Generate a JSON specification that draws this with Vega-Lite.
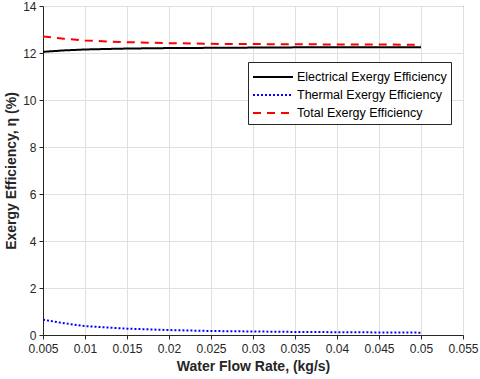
{
  "$schema": "https://vega.github.io/schema/vega-lite/v6.json",
  "width": 420,
  "height": 329,
  "autosize": {"type": "none"},
  "padding": {"left": 43, "top": 6, "right": 17, "bottom": 44},
  "background": "white",
  "config": {
    "font": "Liberation Sans",
    "view": {"stroke": "#262626", "strokeWidth": 1}
  },
  "data": {
    "values": [
      {"flow": 0.005, "series": "Electrical Exergy Efficiency", "eff": 12.05},
      {"flow": 0.0075, "series": "Electrical Exergy Efficiency", "eff": 12.11},
      {"flow": 0.01, "series": "Electrical Exergy Efficiency", "eff": 12.15},
      {"flow": 0.015, "series": "Electrical Exergy Efficiency", "eff": 12.19},
      {"flow": 0.02, "series": "Electrical Exergy Efficiency", "eff": 12.21},
      {"flow": 0.025, "series": "Electrical Exergy Efficiency", "eff": 12.22},
      {"flow": 0.03, "series": "Electrical Exergy Efficiency", "eff": 12.23},
      {"flow": 0.035, "series": "Electrical Exergy Efficiency", "eff": 12.24},
      {"flow": 0.04, "series": "Electrical Exergy Efficiency", "eff": 12.245},
      {"flow": 0.045, "series": "Electrical Exergy Efficiency", "eff": 12.25},
      {"flow": 0.05, "series": "Electrical Exergy Efficiency", "eff": 12.25},
      {"flow": 0.005, "series": "Thermal Exergy Efficiency", "eff": 0.65},
      {"flow": 0.0075, "series": "Thermal Exergy Efficiency", "eff": 0.5},
      {"flow": 0.01, "series": "Thermal Exergy Efficiency", "eff": 0.38},
      {"flow": 0.015, "series": "Thermal Exergy Efficiency", "eff": 0.27},
      {"flow": 0.02, "series": "Thermal Exergy Efficiency", "eff": 0.21},
      {"flow": 0.025, "series": "Thermal Exergy Efficiency", "eff": 0.17},
      {"flow": 0.03, "series": "Thermal Exergy Efficiency", "eff": 0.15},
      {"flow": 0.035, "series": "Thermal Exergy Efficiency", "eff": 0.13},
      {"flow": 0.04, "series": "Thermal Exergy Efficiency", "eff": 0.12},
      {"flow": 0.045, "series": "Thermal Exergy Efficiency", "eff": 0.11},
      {"flow": 0.05, "series": "Thermal Exergy Efficiency", "eff": 0.1},
      {"flow": 0.005, "series": "Total Exergy Efficiency", "eff": 12.7},
      {"flow": 0.0075, "series": "Total Exergy Efficiency", "eff": 12.61},
      {"flow": 0.01, "series": "Total Exergy Efficiency", "eff": 12.53},
      {"flow": 0.015, "series": "Total Exergy Efficiency", "eff": 12.46},
      {"flow": 0.02, "series": "Total Exergy Efficiency", "eff": 12.42},
      {"flow": 0.025, "series": "Total Exergy Efficiency", "eff": 12.39},
      {"flow": 0.03, "series": "Total Exergy Efficiency", "eff": 12.38},
      {"flow": 0.035, "series": "Total Exergy Efficiency", "eff": 12.37},
      {"flow": 0.04, "series": "Total Exergy Efficiency", "eff": 12.365},
      {"flow": 0.045, "series": "Total Exergy Efficiency", "eff": 12.36},
      {"flow": 0.05, "series": "Total Exergy Efficiency", "eff": 12.35}
    ]
  },
  "mark": {"type": "line", "strokeWidth": 2, "clip": true},
  "encoding": {
    "x": {
      "field": "flow",
      "type": "quantitative",
      "scale": {"domain": [0.005, 0.055], "nice": false, "zero": false},
      "axis": {
        "title": "Water Flow Rate, (kg/s)",
        "titleFontSize": 14,
        "titleFontWeight": "bold",
        "titleColor": "#262626",
        "titlePadding": 5,
        "values": [0.005, 0.01, 0.015, 0.02, 0.025, 0.03, 0.035, 0.04, 0.045, 0.05, 0.055],
        "format": ".3~f",
        "labelFontSize": 12,
        "labelColor": "#262626",
        "labelPadding": 4,
        "domainColor": "#262626",
        "tickColor": "#262626",
        "tickSize": 4,
        "gridColor": "#e0e0e0",
        "labelFlush": false
      }
    },
    "y": {
      "field": "eff",
      "type": "quantitative",
      "scale": {"domain": [0, 14], "nice": false},
      "axis": {
        "title": "Exergy Efficiency, η (%)",
        "titleFontSize": 14,
        "titleFontWeight": "bold",
        "titleColor": "#262626",
        "titlePadding": 4,
        "values": [0, 2, 4, 6, 8, 10, 12, 14],
        "labelFontSize": 12,
        "labelColor": "#262626",
        "labelPadding": 3,
        "domainColor": "#262626",
        "tickColor": "#262626",
        "tickSize": 4,
        "gridColor": "#e0e0e0"
      }
    },
    "color": {
      "field": "series",
      "type": "nominal",
      "sort": ["Electrical Exergy Efficiency", "Thermal Exergy Efficiency", "Total Exergy Efficiency"],
      "scale": {
        "domain": ["Electrical Exergy Efficiency", "Thermal Exergy Efficiency", "Total Exergy Efficiency"],
        "range": ["#000000", "#0000ff", "#ff0000"]
      },
      "legend": {
        "title": null,
        "orient": "none",
        "legendX": 205,
        "legendY": 56,
        "fillColor": "white",
        "strokeColor": "#262626",
        "padding": 4,
        "symbolType": "M-1,0H3",
        "symbolSize": 400,
        "symbolStrokeWidth": 2,
        "labelFontSize": 12.5,
        "labelColor": "#000000",
        "labelOffset": 23,
        "rowPadding": -3
      }
    },
    "strokeDash": {
      "field": "series",
      "type": "nominal",
      "sort": ["Electrical Exergy Efficiency", "Thermal Exergy Efficiency", "Total Exergy Efficiency"],
      "scale": {
        "domain": ["Electrical Exergy Efficiency", "Thermal Exergy Efficiency", "Total Exergy Efficiency"],
        "range": [[1, 0], [2, 2], [8, 6]]
      },
      "legend": {
        "title": null,
        "orient": "none",
        "legendX": 205,
        "legendY": 56,
        "fillColor": "white",
        "strokeColor": "#262626",
        "padding": 4,
        "symbolType": "M-1,0H3",
        "symbolSize": 400,
        "symbolStrokeWidth": 2,
        "labelFontSize": 12.5,
        "labelColor": "#000000",
        "labelOffset": 23,
        "rowPadding": -3
      }
    }
  }
}
